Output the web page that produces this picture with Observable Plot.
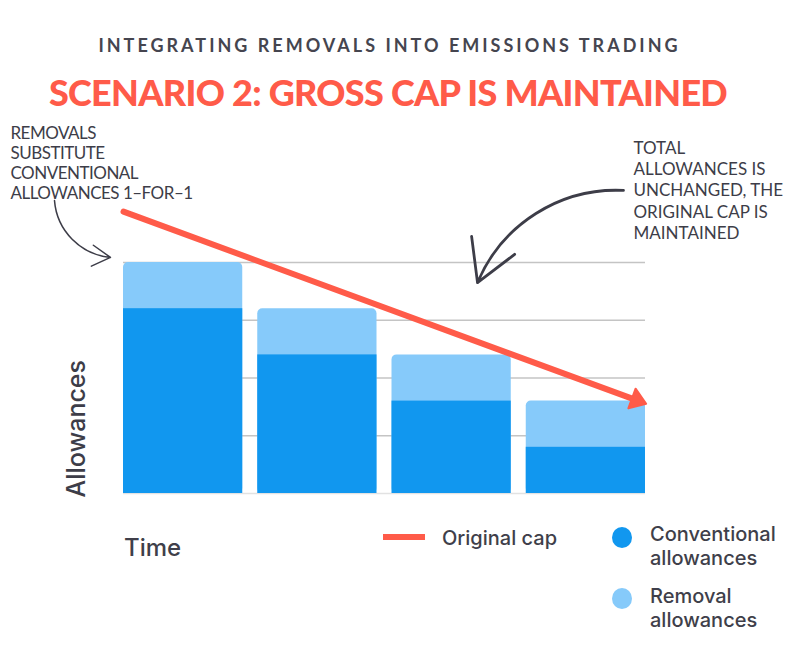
<!DOCTYPE html>
<html>
<head>
<meta charset="utf-8">
<script src="https://cdn.jsdelivr.net/npm/d3@7"></script>
<script src="https://cdn.jsdelivr.net/npm/@observablehq/plot@0.6"></script>
<style>
  html, body { margin: 0; padding: 0; background: #fff; }
  #page { position: relative; width: 800px; height: 650px; overflow: hidden; color: #3f3f4a; }
  .kicker { position: absolute; left: 0; width: 779px; top: 34px; text-align: center;
            font: 700 18px Lato, sans-serif; letter-spacing: 3px; color: #45454f; white-space: nowrap; }
  .title { position: absolute; left: 0; width: 776px; top: 70px; text-align: center;
           font: 900 36px Lato, sans-serif; letter-spacing: -0.7px; color: #ff5b49; white-space: nowrap; }
  #chart { position: absolute; left: 0; top: 115px; }
  .lbl { position: absolute; font-family: Inter, sans-serif; font-weight: 500; color: #3f3f4a; white-space: nowrap; line-height: 1; }
  .time { left: 124px; top: 536px; font-size: 24px; }
  .swatch-line { position: absolute; left: 383px; top: 534px; width: 42px; height: 6px; background: #ff5b49; }
  .swatch-dot { position: absolute; width: 20px; height: 21px; border-radius: 50%; }
  .leg { font-size: 20px; line-height: 24px; }
</style>
</head>
<body>
<div id="page">
  <div class="kicker">INTEGRATING REMOVALS INTO EMISSIONS TRADING</div>
  <div class="title">SCENARIO 2: GROSS CAP IS MAINTAINED</div>
  <div id="chart"></div>
  <div class="lbl time">Time</div>
  <div id="legend"></div>
</div>
<script>
// Allowances issued in each trading period (arbitrary units, cap of period 1 = 100)
const periods = ["Period 1", "Period 2", "Period 3", "Period 4"];
const conventional = [80, 60, 40, 20];
const removals = [20, 20, 20, 20];
const gridValues = [25, 50, 75, 100];

// Original cap trajectory (time in periods, level in allowance units)
const capTime = [0, 3.84];
const capLevel = [122, 40];

const colors = {conventional: "#1197ef", removal: "#86cafa", cap: "#ff5b49", ink: "#3d3d48"};

const bars = periods.map((period, i) => ({
  period,
  start: i,
  end: i + 1,
  conventional: conventional[i],
  total: conventional[i] + removals[i]
}));
const cap = capTime.map((t, i) => ({t, level: capLevel[i]}));

const leftNote = "REMOVALS\nSUBSTITUTE\nCONVENTIONAL\nALLOWANCES 1–FOR–1";
const rightNote = "TOTAL\nALLOWANCES IS\nUNCHANGED, THE\nORIGINAL CAP IS\nMAINTAINED";

const chart = Plot.plot({
  width: 800,
  height: 400,
  marginLeft: 123,
  marginRight: 140,
  marginTop: 147,
  marginBottom: 22,
  x: {domain: [0, 4], axis: null},
  y: {domain: [0, 100], axis: null},
  style: {background: "transparent", overflow: "visible"},
  marks: [
    Plot.ruleY([0], {stroke: "#e2e2e2", strokeWidth: 1.5, insetRight: 15}),
    Plot.ruleY(gridValues, {stroke: "#c4c4c4", strokeWidth: 1.5, insetRight: 15}),
    // total (removal) allowances underneath, rounded top corners
    Plot.rect(bars, {x1: "start", x2: "end", y1: 0, y2: "total", fill: colors.removal, insetRight: 15, rx: 5}),
    // conventional allowances on top
    Plot.rect(bars, {x1: "start", x2: "end", y1: 0, y2: "conventional", fill: colors.conventional, insetRight: 15}),
    Plot.line(cap, {x: "t", y: "level", stroke: colors.cap, strokeWidth: 6, markerEnd: "arrow"}),
    // y label
    Plot.text(["Allowances"], {
      frameAnchor: "bottom-left", rotate: -90, textAnchor: "start", lineAnchor: "middle",
      dx: -47, dy: 4, fontSize: 25, fontWeight: 500, fontFamily: "Inter", fill: colors.ink
    }),
    // annotations
    Plot.text([leftNote], {
      x: -0.842, y: 159.7, textAnchor: "start", lineAnchor: "top",
      fontSize: 17, lineHeight: 20 / 17, fontFamily: "Lato", fill: colors.ink
    }),
    Plot.text([rightNote], {
      x: 3.799, y: 153.7, textAnchor: "start", lineAnchor: "top",
      fontSize: 17, lineHeight: 21.4 / 17, fontFamily: "Lato", fill: colors.ink
    }),
    Plot.arrow([leftNote], {
      x1: -0.514, y1: 126.8, x2: -0.097, y2: 102.2, bend: -40,
      stroke: colors.ink, strokeWidth: 1.5, headLength: 21
    }),
    Plot.arrow([rightNote], {
      x1: 3.724, y1: 131.2, x2: 2.637, y2: 91.3, bend: -35,
      stroke: colors.ink, strokeWidth: 2.8, headLength: 25
    })
  ]
});

// Solid triangular head for the cap arrow
chart.querySelectorAll("marker").forEach((m) => {
  m.setAttribute("markerUnits", "userSpaceOnUse");
  m.setAttribute("viewBox", "-14 -14 28 28");
  m.setAttribute("markerWidth", 28);
  m.setAttribute("markerHeight", 28);
  m.setAttribute("fill", colors.cap);
  m.setAttribute("stroke", colors.cap);
  m.setAttribute("stroke-width", 2);
  m.setAttribute("stroke-linejoin", "round");
  const p = m.querySelector("path");
  if (p) p.setAttribute("d", "M-7.5,-10.5L7.6,0L-7.5,10.5Z");
});

// Slightly tighter tracking for the left-hand note
chart.querySelectorAll("text").forEach((t) => {
  if (t.textContent.startsWith("REMOVALS")) t.style.letterSpacing = "-0.5px";
});

document.getElementById("chart").append(chart);

// Legend
const legend = document.getElementById("legend");
legend.innerHTML = `
  <div class="swatch-line"></div>
  <div class="lbl leg" style="left:442px;top:526px">Original cap</div>
  <div class="swatch-dot" style="left:612px;top:527px;background:${colors.conventional}"></div>
  <div class="lbl leg" style="left:650px;top:522px">Conventional<br>allowances</div>
  <div class="swatch-dot" style="left:612px;top:588px;background:${colors.removal}"></div>
  <div class="lbl leg" style="left:650px;top:584px">Removal<br>allowances</div>
`;
</script>
</body>
</html>
